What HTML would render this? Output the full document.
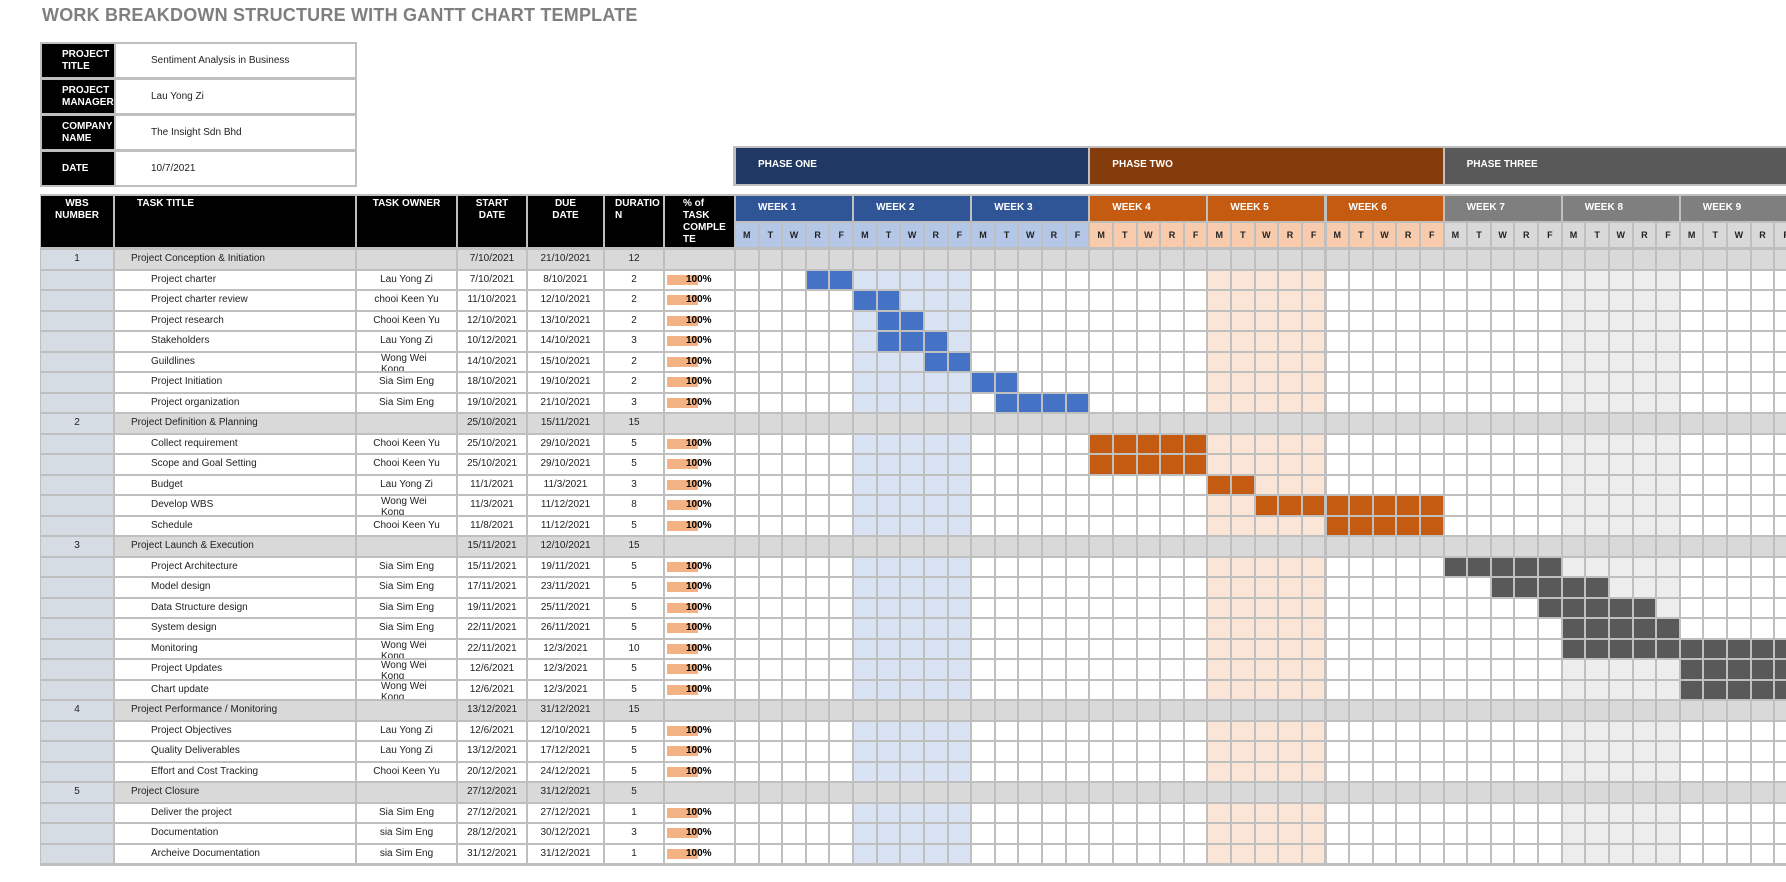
<!DOCTYPE html>
<html><head><meta charset="utf-8">
<style>
html,body{margin:0;padding:0;background:#fff;}
body{width:1786px;height:882px;overflow:hidden;position:relative;font-family:"Liberation Sans",sans-serif;}
.a{position:absolute;box-sizing:border-box;overflow:hidden;}
.t{font-size:10px;color:#222;white-space:nowrap;}
.h{color:#fff;font-weight:bold;font-size:10px;}
</style></head>
<body>
<div class="a" style="left:42px;top:5px;font-size:18px;font-weight:bold;color:#7f7f7f;letter-spacing:0.2px;white-space:nowrap;">WORK BREAKDOWN STRUCTURE WITH GANTT CHART TEMPLATE</div>
<div id="root" class="a" style="left:0;top:0;width:1786px;height:882px;"></div>
<script>
// ---- data ----
const infoLabels=['PROJECT<br>TITLE','PROJECT<br>MANAGER','COMPANY<br>NAME','DATE'];
const infoValues=['Sentiment Analysis in Business','Lau Yong Zi','The Insight Sdn Bhd','10/7/2021'];
const wbsNums=['1','','','','','','','','2','','','','','','3','','','','','','','','4','','','','5','','',''];
const isCat=[1,0,0,0,0,0,0,0,1,0,0,0,0,0,1,0,0,0,0,0,0,0,1,0,0,0,1,0,0,0];
const titles=['Project Conception & Initiation','Project charter','Project charter review','Project research','Stakeholders','Guildlines','Project Initiation','Project organization','Project Definition & Planning','Collect requirement','Scope and Goal Setting','Budget','Develop WBS','Schedule','Project Launch & Execution','Project Architecture','Model design','Data Structure design','System design','Monitoring','Project Updates','Chart update','Project Performance / Monitoring','Project Objectives','Quality Deliverables','Effort and Cost Tracking','Project Closure','Deliver the project','Documentation','Archeive Documentation'];
const owners=['','Lau Yong Zi','chooi Keen Yu','Chooi Keen Yu','Lau Yong Zi','Wong Wei Kong','Sia Sim Eng','Sia Sim Eng','','Chooi Keen Yu','Chooi Keen Yu','Lau Yong Zi','Wong Wei Kong','Chooi Keen Yu','','Sia Sim Eng','Sia Sim Eng','Sia Sim Eng','Sia Sim Eng','Wong Wei Kong','Wong Wei Kong','Wong Wei Kong','','Lau Yong Zi','Lau Yong Zi','Chooi Keen Yu','','Sia Sim Eng','sia Sim Eng','sia Sim Eng'];
const starts=['7/10/2021','7/10/2021','11/10/2021','12/10/2021','10/12/2021','14/10/2021','18/10/2021','19/10/2021','25/10/2021','25/10/2021','25/10/2021','11/1/2021','11/3/2021','11/8/2021','15/11/2021','15/11/2021','17/11/2021','19/11/2021','22/11/2021','22/11/2021','12/6/2021','12/6/2021','13/12/2021','12/6/2021','13/12/2021','20/12/2021','27/12/2021','27/12/2021','28/12/2021','31/12/2021'];
const dues=['21/10/2021','8/10/2021','12/10/2021','13/10/2021','14/10/2021','15/10/2021','19/10/2021','21/10/2021','15/11/2021','29/10/2021','29/10/2021','11/3/2021','11/12/2021','11/12/2021','12/10/2021','19/11/2021','23/11/2021','25/11/2021','26/11/2021','12/3/2021','12/3/2021','12/3/2021','31/12/2021','12/10/2021','17/12/2021','24/12/2021','31/12/2021','27/12/2021','30/12/2021','31/12/2021'];
const durations=[12,2,2,2,3,2,2,3,15,5,5,3,8,5,15,5,5,5,5,10,5,5,15,5,5,5,5,1,3,1];
const barStart=[-1,3,5,6,6,8,10,11,-1,15,15,20,22,25,-1,30,32,34,35,35,40,40,-1,45,50,55,-1,60,61,64];
const barLen=[0,2,2,2,3,2,2,4,0,5,5,2,8,5,0,5,5,5,5,10,5,5,0,5,5,5,0,1,3,1];
const phaseNames=['PHASE ONE','PHASE TWO','PHASE THREE'];
const weekNames=['WEEK 1','WEEK 2','WEEK 3','WEEK 4','WEEK 5','WEEK 6','WEEK 7','WEEK 8','WEEK 9','WEEK 10'];
const dayNames=['M','T','W','R','F'];

// ---- layout ----
const R=document.getElementById('root');
function box(x,y,w,h,bg,html,cls,style){const d=document.createElement('div');d.className='a '+(cls||'');d.style.cssText=`left:${x}px;top:${y}px;width:${w}px;height:${h}px;background:${bg};`+(style||'');if(html!==undefined)d.innerHTML=html;R.appendChild(d);return d;}
const G='#bfbfbf';
box(40,42,317,145,G);
for(let i=0;i<4;i++){const y=42+i*36;
 const l=box(42,y+2,72,33,'#000',infoLabels[i],'h','display:flex;align-items:center;padding-left:20px;line-height:12px;');
 
 const v=box(116,y+2,239,33,'#fff',infoValues[i],'t','display:flex;align-items:center;padding-left:35px;font-size:10px;');
 }
const colX=[40,114,356,457,527,604,664,735];
const DW=23.62, GX=735, RH=20.5, RY=249;
const dx=d=>GX+d*DW;
const ry=i=>RY+i*RH;
const phaseCol=['#203864','#843c0c','#595959'];
box(733,146,1053,40,G);
for(let p=0;p<3;p++){const x=dx(p*15);const w=p<2?15*DW:1786-x+1;
 const e=box(x+1,148,w-2,36,phaseCol[p],phaseNames[p],'h','padding:11px 0 0 22px;');
 }
box(40,194,1746,RY-194+30*RH+2,G);
const hdr=['WBS<br>NUMBER','TASK TITLE','TASK OWNER','START<br>DATE','DUE<br>DATE','DURATIO<br>N','% of<br>TASK<br>COMPLE<br>TE'];
const hpad=['text-align:center;','padding-left:22px;','text-align:center;','text-align:center;','text-align:center;','padding-left:10px;','padding-left:18px;'];
for(let c=0;c<7;c++){const e=box(colX[c]+1,196,colX[c+1]-colX[c]-2,51,'#000',hdr[c],'h',hpad[c]+'padding-top:2px;line-height:12px;');
 }
const weekCol=['#2f5597','#c55a11','#7f7f7f'];
const dayCol=['#b4c7e7','#f8cbad','#d9d9d9'];
const shade=['#dae3f3','#fbe5d6','#ededed'];
const barCol=['#4472c4','#c55a11','#595959'];
const NW=10;
for(let w=0;w<NW;w++){const p=Math.min(2,Math.floor(w/3));
 const e=box(dx(w*5)+1,196,5*DW-2,25,weekCol[p],weekNames[w],'h','padding:6px 0 0 22px;');
 
 for(let d=0;d<5;d++){const k=w*5+d;
  const f=box(dx(k)+1,223,DW-2,24,dayCol[p],dayNames[d],'','font-size:9px;font-weight:bold;color:#222;text-align:center;padding-top:7px;');
  }}
for(let i=0;i<30;i++){const y=ry(i)+1,h=RH-2;const cat=isCat[i];const bg=cat?'#d9d9d9':'#fff';
 const ln=`line-height:${h}px;`;
 box(41,y,72,h,'#d6dce4',wbsNums[i],'t','text-align:center;'+ln);
 const tt=box(115,y,240,h,bg,titles[i],'t',ln+'padding-left:'+(cat?16:36)+'px;');
 
 const ow=owners[i];const wrap=ow.indexOf('Wong')===0;
 box(357,y,99,h,bg,ow,'t',wrap?'white-space:normal;line-height:11px;padding:0 20px 0 24px;':'text-align:center;'+ln);
 box(458,y,68,h,bg,starts[i],'t','text-align:center;'+ln);
 box(528,y,75,h,bg,dues[i],'t','text-align:center;'+ln);
 box(605,y,58,h,bg,String(durations[i]),'t','text-align:center;'+ln);
 const pc=box(665,y,69,h,bg,'','t');
 if(!cat){const b=document.createElement('div');b.className='a';b.style.cssText=`left:2px;top:${(h-10)/2}px;width:31px;height:10px;background:#f4b183;`;pc.appendChild(b);
  const s=document.createElement('div');s.className='a';s.style.cssText=`left:21px;top:0;height:${h}px;line-height:${h}px;font-weight:bold;font-size:10px;color:#000;`;s.textContent='100%';pc.appendChild(s);
  }
 for(let k=0;k<NW*5;k++){const w=Math.floor(k/5),p=Math.min(2,Math.floor(w/3));
  let c=cat?'#d9d9d9':((w%3===1)?shade[p]:'#fff');
  const inBar=barStart[i]>=0&&k>=barStart[i]&&k<barStart[i]+barLen[i];
  if(inBar){const bp=Math.min(2,Math.floor(Math.floor(barStart[i]/5)/3));c=barCol[bp];}
  const cell=box(dx(k)+1,y,DW-2,h,c);
  if(inBar){}}
}
</script>
</body></html>
